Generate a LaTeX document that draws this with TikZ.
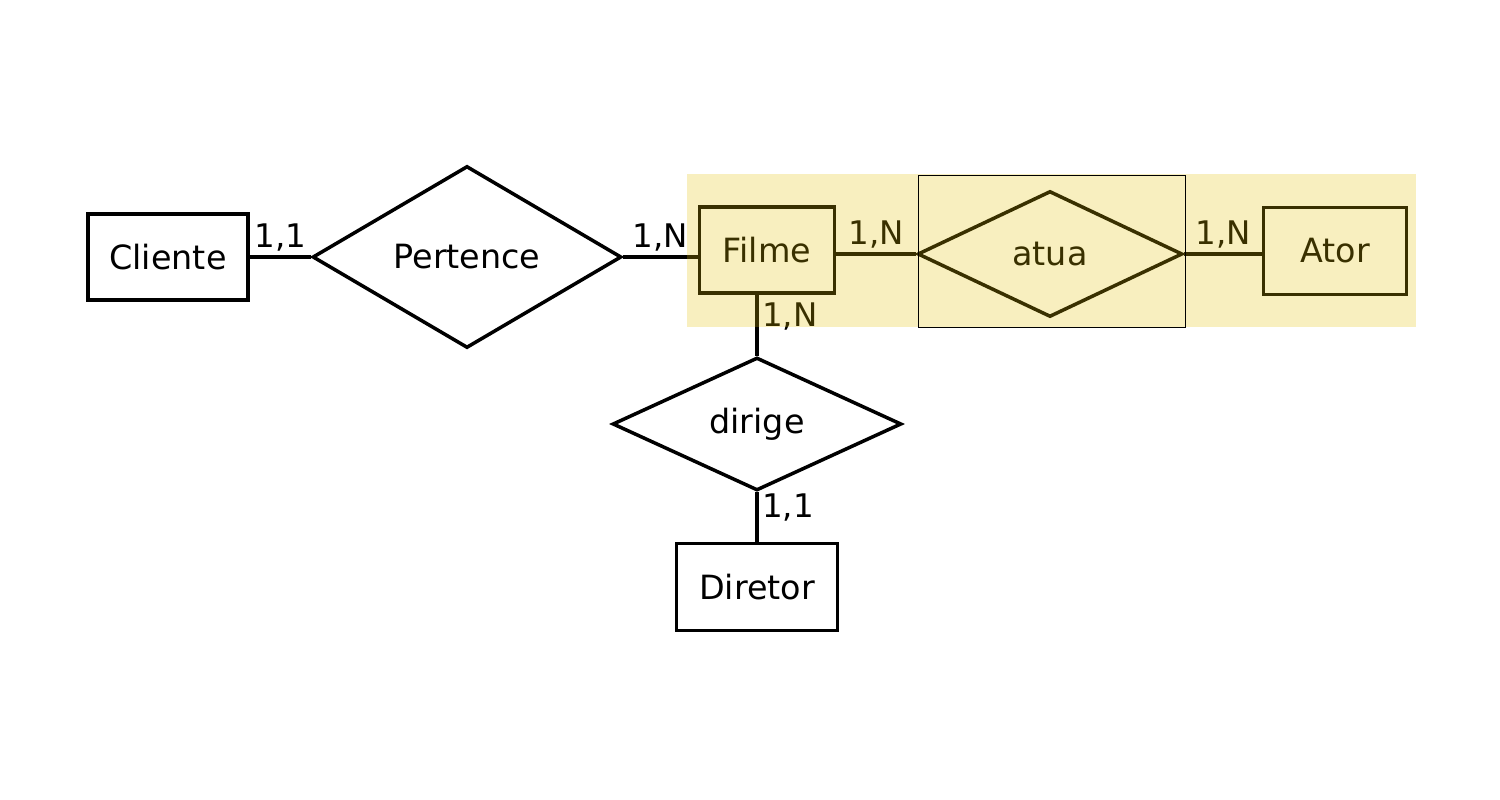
\documentclass[tikz,border=0pt]{standalone}
\usepackage{fontspec}
\setmainfont{DejaVu Sans}
\usetikzlibrary{shapes.geometric}
\definecolor{marca}{RGB}{231,195,0}

\begin{document}
\begin{tikzpicture}[x=0.02cm,y=-0.02cm,
  entidade/.style={draw, line width=2pt, inner sep=0pt,
    font=\fontsize{19}{22}\selectfont},
  relacao/.style={diamond, draw, line width=2pt, inner sep=0pt,
    font=\fontsize{19}{22}\selectfont},
  ligacao/.style={line width=2pt},
  card/.style={inner sep=2pt, font=\fontsize{18.5}{22}\selectfont}]
  \fill[white] (0,0) rectangle (1500,800);
  % entidades
  \node[entidade, minimum width=3.2cm, minimum height=1.72cm] (cliente) at (168,257) {Cliente};
  \node[entidade, minimum width=2.7cm, minimum height=1.72cm] (filme) at (767,250) {Filme};
  \node[entidade, minimum width=2.86cm, minimum height=1.74cm] (ator) at (1335,251) {Ator};
  \node[entidade, minimum width=3.22cm, minimum height=1.74cm] (diretor) at (757,587) {Diretor};
  % relacionamentos
  \node[relacao, minimum width=6.18cm, minimum height=3.64cm] (pertence) at (467,257) {Pertence};
  \node[relacao, minimum width=5.3cm, minimum height=2.52cm] (atua) at (1050,254) {atua};
  \node[relacao, minimum width=5.78cm, minimum height=2.66cm] (dirige) at (757,424) {dirige};
  % ligacoes
  \draw[ligacao] (cliente.east |- pertence.west) -- node[card, above] {1,1} (pertence.west);
  \draw[ligacao] (pertence.east) -- node[card, above] {1,N} (pertence.east -| filme.west);
  \draw[ligacao] (atua.west -| filme.east) -- node[card, above] {1,N} (atua.west);
  \draw[ligacao] (atua.east) -- node[card, above] {1,N} (atua.east -| ator.west);
  \draw[ligacao] (dirige.north |- filme.south) -- node[card, right, pos=0.35] {1,N} (dirige.north);
  \draw[ligacao] (dirige.south) -- node[card, right, pos=0.3] {1,1} (dirige.south |- diretor.north);
  % destaque
  \fill[marca, fill opacity=0.25] (687,174) rectangle (1416,327);
  \draw[line width=0.5pt] (918,175) rectangle (1185,327);
\end{tikzpicture}
\end{document}
